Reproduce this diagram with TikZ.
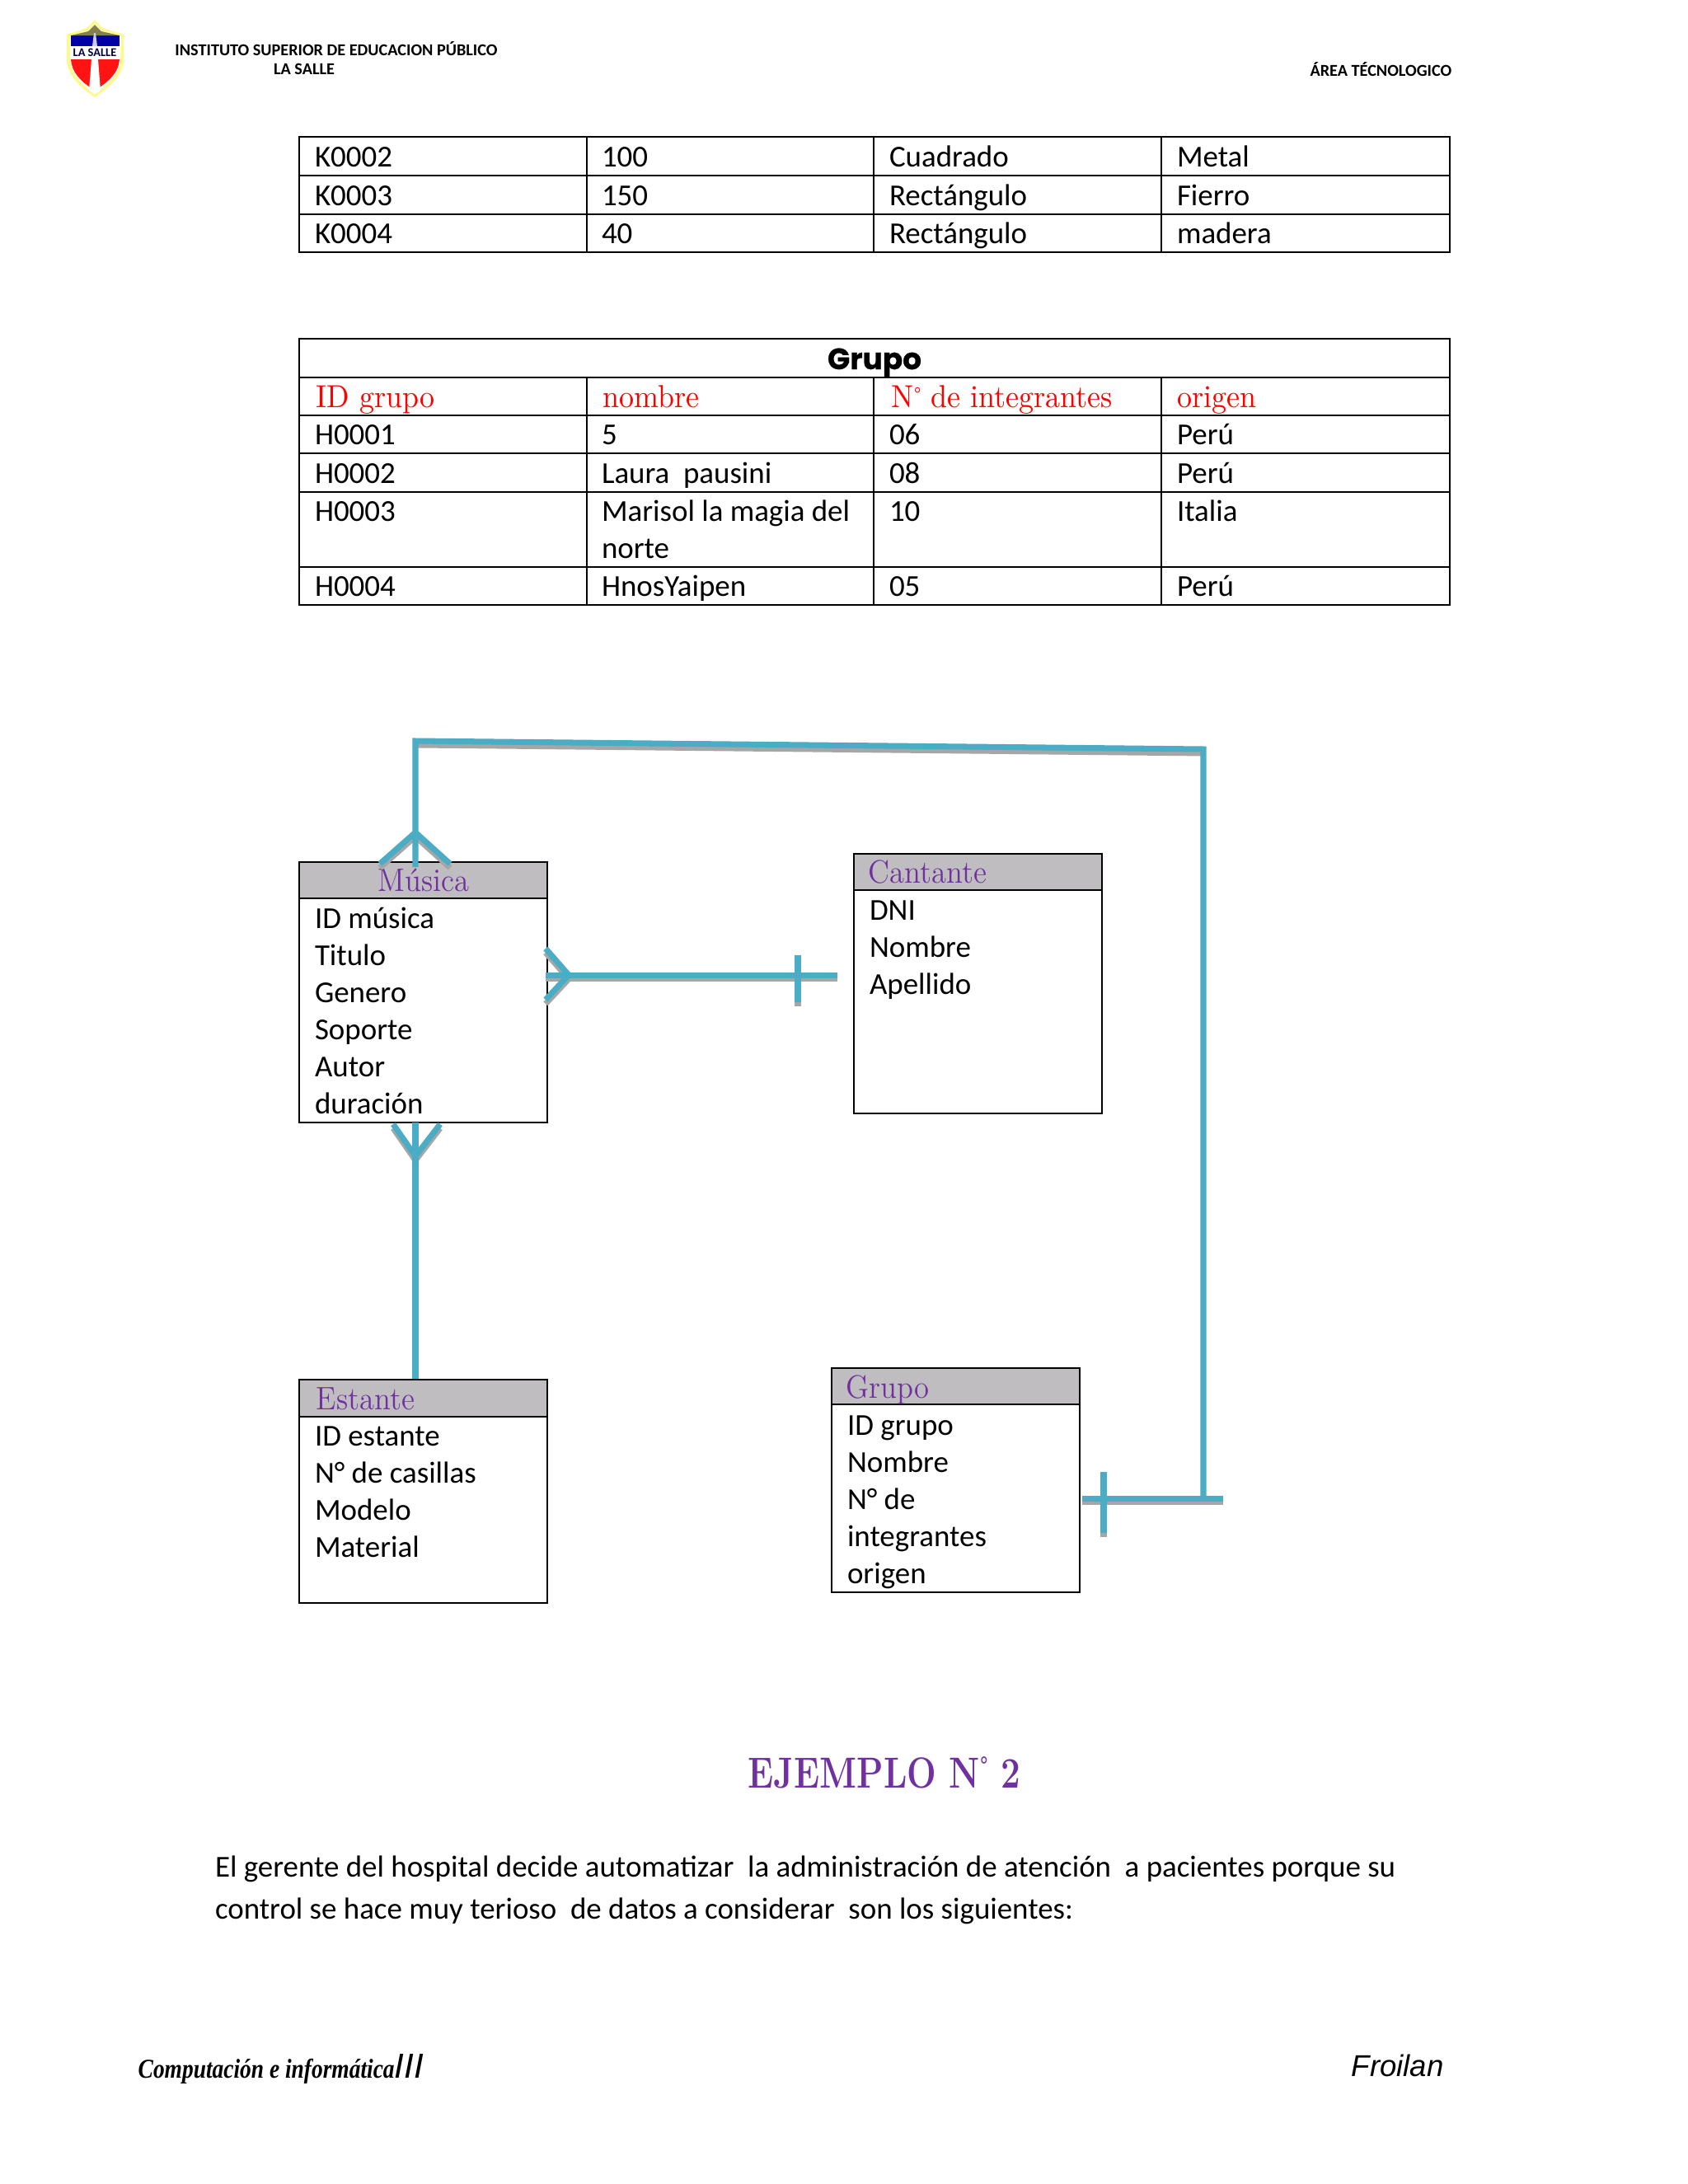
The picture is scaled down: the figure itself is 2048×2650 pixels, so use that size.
\documentclass[tikz,border=0pt]{standalone}
\usepackage{fontspec}
\setmainfont{Carlito}
\newfontfamily\serifhead[FakeStretch=0.93]{Latin Modern Roman}
\newfontfamily\titlef[FakeStretch=0.8]{Latin Modern Roman}
\newfontfamily\scriptlike[FakeStretch=0.83]{Liberation Serif}
\newfontfamily\arialf{Liberation Sans}
\newfontfamily\heavyf[FakeBold=0.6]{Poppins}
\definecolor{relblue}{HTML}{4BACC6}
\definecolor{relshadow}{HTML}{A6A6A6}
\definecolor{headgray}{HTML}{BFBDBF}
\definecolor{headpurple}{HTML}{7030A0}
\definecolor{headred}{HTML}{FF0000}
\newcommand{\body}{\fontsize{10.5}{12}\selectfont}
\newcommand{\smalldeg}{\raisebox{0.62ex}{\fontsize{5.5}{6}\selectfont °}}
\tikzset{
  x=0.01cm,y=-0.01cm,
  txt/.style={anchor=base west,inner sep=0pt,outer sep=0pt,font=\body,text=black},
  tabline/.style={draw=black,line width=0.6pt},
  boxframe/.style={draw=black,line width=0.6pt,fill=white},
  boxhead/.style={draw=black,line width=0.6pt,fill=headgray},
  enttitle/.style={anchor=base west,inner sep=0pt,font=\serifhead\fontsize{11.2}{13}\selectfont,text=headpurple},
  redtitle/.style={anchor=base west,inner sep=0pt,font=\serifhead\fontsize{11}{13}\selectfont,text=headred},
  rel/.style={draw=relblue,line width=2pt},
  relsh/.style={draw=relshadow,line width=2pt},
  hdr/.style={inner sep=0pt,font=\bfseries\fontsize{5.75}{7}\selectfont,text=black}
}
\begin{document}
\begin{tikzpicture}
\useasboundingbox[fill=white] (0,0) rectangle (2048,2650);

% ---- logo
\fill[yellow!45!white] (115,24) -- (125,34) -- (150,42) -- (150,75) .. controls (147,95) and (129,108) .. (115,118) .. controls (101,108) and (84,95) .. (81,75) -- (81,42) -- (105,34) -- cycle;
\fill[white] (115,29) -- (123,37) -- (147,44) -- (146,75) .. controls (143,93) and (127,105) .. (115,114) .. controls (103,105) and (88,93) .. (85,75) -- (85,44) -- (107,37) -- cycle;
\fill[blue!65!black] (86,43) -- (145,43) -- (145,56) -- (86,56) -- cycle;
\fill[black!55!yellow] (115,30) -- (123,38) -- (145,43) -- (86,43) -- (107,38) -- cycle;
\fill[red!90!pink] (86,72) -- (145,72) -- (144,78) .. controls (141,92) and (127,102) .. (115,110) .. controls (103,102) and (90,92) .. (87,78) -- cycle;
\fill[white] (111,72) -- (119,72) -- (122,110) -- (115,114) -- (108,110) -- cycle;
\fill[white!80!blue] (112,56) -- (114,40) -- (116,40) -- (118,56) -- cycle;
\node[inner sep=0pt,font=\bfseries\fontsize{4.1}{4}\selectfont,text=blue!25!black] (logotxt) at (115,64) {LA SALLE};

% ---- page header
\node[hdr] (h1) at (408,59) {INSTITUTO SUPERIOR DE EDUCACION PÚBLICO};
\node[hdr] (h2) at (369,84) {LA SALLE};
\node[hdr,anchor=east] (h3) at (1762,84) {ÁREA TÉCNOLOGICO};

% ---- first table
\draw[tabline] (363,166) rectangle (1759,306);
\draw[tabline] (363,213) -- (1759,213) (363,260) -- (1759,260);
\draw[tabline] (712,166) -- (712,306) (1060,166) -- (1060,306) (1409,166) -- (1409,306);
\node[txt] (a1) at (382,202) {K0002};
\node[txt] (a2) at (730,202) {100};
\node[txt] (a3) at (1079,202) {Cuadrado};
\node[txt] (a4) at (1428,202) {Metal};
\node[txt] (b1) at (382,249) {K0003};
\node[txt] (b2) at (730,249) {150};
\node[txt] (b3) at (1079,249) {Rectángulo};
\node[txt] (b4) at (1428,249) {Fierro};
\node[txt] (c1) at (382,295) {K0004};
\node[txt] (c2) at (730,295) {40};
\node[txt] (c3) at (1079,295) {Rectángulo};
\node[txt] (c4) at (1428,295) {madera};

% ---- second table
\draw[tabline] (363,411) rectangle (1759,734);
\draw[tabline] (363,458) -- (1759,458) (363,504) -- (1759,504) (363,550) -- (1759,550) (363,597) -- (1759,597) (363,688) -- (1759,688);
\draw[tabline] (712,458) -- (712,734) (1060,458) -- (1060,734) (1409,458) -- (1409,734);
\node[inner sep=0pt,anchor=base,font=\heavyf\bfseries\fontsize{10.2}{13}\selectfont] (gt) at (1061,448) {Grupo};
\node[redtitle] (r1) at (383,494) {ID grupo};
\node[redtitle] (r2) at (731,494) {nombre};
\node[redtitle] (r3) at (1081,494) {N\smalldeg{} de integrantes};
\node[redtitle] (r4) at (1428,494) {origen};
\node[txt] (d1) at (382,539) {H0001};
\node[txt] (d2) at (730,539) {5};
\node[txt] (d3) at (1079,539) {06};
\node[txt] (d4) at (1428,539) {Perú};
\node[txt] (e1) at (382,586) {H0002};
\node[txt] (e2) at (730,586) {Laura\ \ pausini};
\node[txt] (e3) at (1079,586) {08};
\node[txt] (e4) at (1428,586) {Perú};
\node[txt] (f1) at (382,632) {H0003};
\node[txt] (f2) at (730,632) {Marisol la magia del};
\node[txt] (f2b) at (730,677) {norte};
\node[txt] (f3) at (1079,632) {10};
\node[txt] (f4) at (1428,632) {Italia};
\node[txt] (g1) at (382,723) {H0004};
\node[txt] (g2) at (730,723) {HnosYaipen};
\node[txt] (g3) at (1079,723) {05};
\node[txt] (g4) at (1428,723) {Perú};

% ---- entity boxes
\draw[boxframe] (363,1046) rectangle (664,1362);
\draw[boxhead] (363,1046) rectangle (664,1090);
\node[enttitle,anchor=base] (mus) at (514,1081) {Música};
\node[txt] (m1) at (382,1126) {ID música};
\node[txt] (m2) at (382,1171) {Titulo};
\node[txt] (m3) at (382,1216) {Genero};
\node[txt] (m4) at (382,1261) {Soporte};
\node[txt] (m5) at (382,1306) {Autor};
\node[txt] (m6) at (382,1351) {duración};

\draw[boxframe] (1036,1036) rectangle (1337,1351);
\draw[boxhead] (1036,1036) rectangle (1337,1080);
\node[enttitle] (can) at (1053,1071) {Cantante};
\node[txt] (n1) at (1055,1116) {DNI};
\node[txt] (n2) at (1055,1161) {Nombre};
\node[txt] (n3) at (1055,1206) {Apellido};

\draw[boxframe] (363,1674) rectangle (664,1945);
\draw[boxhead] (363,1674) rectangle (664,1719);
\node[enttitle] (est) at (383,1710) {Estante};
\node[txt] (s1) at (382,1754) {ID estante};
\node[txt] (s2) at (382,1799) {N° de casillas};
\node[txt] (s3) at (382,1844) {Modelo};
\node[txt] (s4) at (382,1889) {Material};

\draw[boxframe] (1009,1660) rectangle (1310,1932);
\draw[boxhead] (1009,1660) rectangle (1310,1704);
\node[enttitle] (gru) at (1026,1696) {Grupo};
\node[txt] (q1) at (1028,1741) {ID grupo};
\node[txt] (q2) at (1028,1786) {Nombre};
\node[txt] (q3) at (1028,1831) {N° de};
\node[txt] (q4) at (1028,1876) {integrantes};
\node[txt] (q5) at (1028,1921) {origen};

% ---- connector anchor points
\coordinate (topL) at (504,899);
\coordinate (topR) at (1460,909);
\coordinate (botR) at (1460,1818);
\coordinate (gruE) at (1313,1818);
\coordinate (gruX) at (1484,1818);
\coordinate (musT) at (504,1052);
\coordinate (musTa) at (504,1010);
\coordinate (musTl) at (461,1048);
\coordinate (musTr) at (546,1048);
\coordinate (musE) at (662,1183);
\coordinate (musEa) at (690,1183);
\coordinate (musEu) at (662,1151);
\coordinate (musEd) at (662,1213);
\coordinate (canW) at (1016,1183);
\coordinate (musB) at (504,1362);
\coordinate (musBa) at (504,1403);
\coordinate (musBl) at (477,1364);
\coordinate (musBr) at (534,1364);
\coordinate (estN) at (504,1673);
\coordinate (barAu) at (968,1159);
\coordinate (barAd) at (968,1216);
\coordinate (barBu) at (1339,1786);
\coordinate (barBd) at (1339,1860);

% ---- shadows
\draw[relsh] ([yshift=-1.4pt]topL) -- ([yshift=-1.4pt]topR);
\draw[relsh] ([yshift=-1.4pt]musE) -- ([yshift=-1.4pt]canW);
\draw[relsh] ([yshift=-1.4pt]gruE) -- ([yshift=-1.4pt]gruX);
\draw[relsh] ([yshift=-1.4pt]musTl) -- ([yshift=-1.4pt]musTa) -- ([yshift=-1.4pt]musTr);
\draw[relsh] ([yshift=-1.4pt]musEu) -- ([yshift=-1.4pt]musEa) -- ([yshift=-1.4pt]musEd);
\draw[relsh] ([yshift=-1.4pt]musBl) -- ([yshift=-1.4pt]musBa) -- ([yshift=-1.4pt]musBr);
\draw[relsh] ([yshift=-1.4pt]barAu) -- ([yshift=-1.4pt]barAd);
\draw[relsh] ([yshift=-1.4pt]barBu) -- ([yshift=-1.4pt]barBd);

% ---- connectors
\draw[rel] (musT) -- (topL) -- (topR) -- (botR);
\draw[rel] (gruE) -- (gruX);
\draw[rel] (barBu) -- (barBd);
\draw[rel] (musE) -- (canW);
\draw[rel] (barAu) -- (barAd);
\draw[rel] (musB) -- (estN);
\draw[rel] (musTl) -- (musTa) -- (musTr);
\draw[rel] (musEu) -- (musEa) -- (musEd);
\draw[rel] (musBl) -- (musBa) -- (musBr);

% ---- lower text
\node[inner sep=0pt,font=\titlef\bfseries\fontsize{15}{18}\selectfont,text=headpurple] (ej) at (1073,2151) {EJEMPLO N\raisebox{0.9ex}{\fontsize{7}{8}\selectfont °}\ 2};
\node[txt] (p1) at (261,2277) {El gerente del hospital decide automatizar\ \ la administración de atención\ \ a pacientes porque su};
\node[txt] (p2) at (261,2328) {control se hace muy terioso\ \ de datos a considerar\ \ son los siguientes:};

% ---- footer
\node[anchor=west,inner sep=0pt,font=\scriptlike\itshape\bfseries\fontsize{9.4}{11}\selectfont] (fl) at (167,2510) {Computación e informática\arialf\mdseries\itshape\fontsize{12}{14}\selectfont III};
\node[anchor=west,inner sep=0pt,font=\arialf\itshape\fontsize{10.4}{12}\selectfont] (fr) at (1639,2506) {Froilan};
\end{tikzpicture}
\end{document}
